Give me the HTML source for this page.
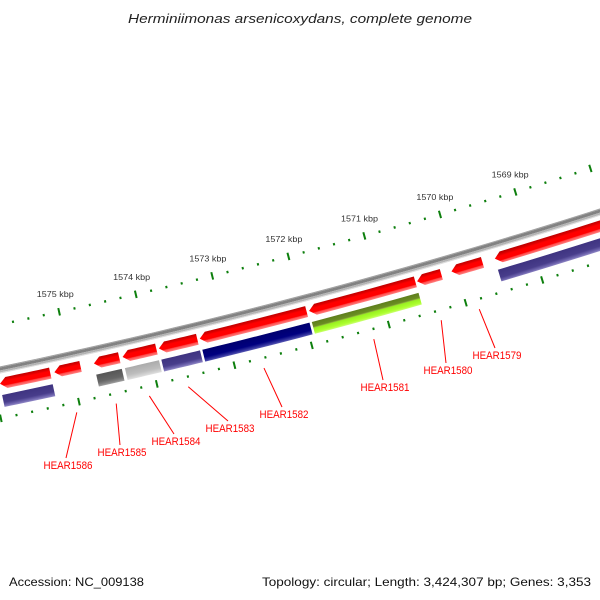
<!DOCTYPE html>
<html><head><meta charset="utf-8">
<style>
html,body{margin:0;padding:0;background:#fff;}
svg{display:block;font-family:"Liberation Sans","DejaVu Sans",sans-serif;}
</style></head>
<body>
<svg id="chart" width="600" height="600" viewBox="0 0 600 600">
<defs id="defs"></defs>
<text x="300" y="23" text-anchor="middle" font-size="13" font-style="italic" fill="#222" textLength="344" lengthAdjust="spacingAndGlyphs">Herminiimonas arsenicoxydans, complete genome</text>
<g id="backbone"></g>
<g id="ticks"></g>
<g id="genes"></g>
<g id="cogs"></g>
<g id="labels"></g>
<text x="9" y="586" font-size="12" fill="#111" textLength="135" lengthAdjust="spacingAndGlyphs">Accession: NC_009138</text>
<text x="262" y="586" font-size="12" fill="#111" textLength="329" lengthAdjust="spacingAndGlyphs">Topology: circular; Length: 3,424,307 bp; Genes: 3,353</text>
</svg>
<script>
// ---- data ----
const geneStart = [1575.93, 1575.23, 1574.72, 1574.35, 1573.88, 1573.35, 1571.93, 1570.52, 1570.07, 1569.50];
const geneEnd   = [1575.27, 1574.88, 1574.38, 1573.90, 1573.37, 1571.95, 1570.53, 1570.19, 1569.65, 1566.80];
const geneNames = ["", "HEAR1586", "HEAR1585", "HEAR1584", "HEAR1583", "HEAR1582", "HEAR1581", "HEAR1580", "HEAR1579", ""];
const geneCog   = ["slate", "", "dgray", "lgray", "slate", "navy", "olive", "", "", "slate"];
const majorKbp  = [1575, 1574, 1573, 1572, 1571, 1570, 1569];
const tickLabels = ["1575 kbp", "1574 kbp", "1573 kbp", "1572 kbp", "1571 kbp", "1570 kbp", "1569 kbp"];
// label layout (text centre x, baseline y) for named genes
const labelPosX = [0, 68, 122, 176, 230, 284, 385, 448, 497, 0];
const labelPosY = [0, 469, 456, 445, 432, 418, 391, 374, 359, 0];

// ---- geometry ----
const NS = "http://www.w3.org/2000/svg";
const CX = -1226, CY = -5508;
const DEG_PER_KBP = 0.756, REF_KBP = 1572, REF_DEG = 75.28;
function ang(k){ return (REF_DEG + (k - REF_KBP) * DEG_PER_KBP) * Math.PI / 180; }
function pt(r, a){ return [CX + r * Math.cos(a), CY + r * Math.sin(a)]; }
function mk(tag, attrs, parent){ const e = document.createElementNS(NS, tag); for (const k in attrs) e.setAttribute(k, attrs[k]); parent.appendChild(e); return e; }
const defs = document.getElementById('defs');
let gid = 0;
function grad(a, r0, r1, stops){
  const p0 = pt(r0, a), p1 = pt(r1, a);
  const id = 'g' + (gid++);
  const g = mk('linearGradient', {id: id, gradientUnits: 'userSpaceOnUse', x1: p0[0], y1: p0[1], x2: p1[0], y2: p1[1]}, defs);
  stops.forEach(s => mk('stop', {offset: s[0], 'stop-color': s[1]}, g));
  return 'url(#' + id + ')';
}
function arcPts(r, a0, a1, n){ const out = []; for (let i = 0; i <= n; i++){ out.push(pt(r, a0 + (a1 - a0) * i / n)); } return out; }
function polyStr(pts){ return pts.map(p => p[0].toFixed(2) + ',' + p[1].toFixed(2)).join(' '); }

// ---- backbone ----
const bb = document.getElementById('backbone');
const bbLayers = [[6001.5, 1, '#a0a0a0'], [6003.5, 3, '#828282'], [6006, 2, '#b4b4b4'], [6007.5, 1, '#dcdcdc']];
bbLayers.forEach(l => {
  const p = mk('polyline', {points: polyStr(arcPts(l[0], ang(1577.5), ang(1565.5), 40)), fill: 'none', stroke: l[2], 'stroke-width': l[1]}, bb);
  
  
});

// ---- ticks ----
const tg = document.getElementById('ticks');
const TICK_GREEN = '#0d7f0d';
[5960, 6052].forEach((r, ring) => {
  for (let i = 7830; i <= 7890; i++){
    const k = i / 5;
    const a = ang(k);
    const major = (i % 5 === 0);
    const len = major ? 3.8 : 1.2;
    const p0 = pt(r - len, a), p1 = pt(r + len, a);
    const t = mk('line', {x1: p0[0], y1: p0[1], x2: p1[0], y2: p1[1], stroke: TICK_GREEN, 'stroke-width': 2}, tg);
    
    
  }
});
majorKbp.forEach((k, i) => {
  const p = pt(5942, ang(k));
  const t = mk('text', {x: p[0], y: p[1] + 3, 'text-anchor': 'middle', 'font-size': 8.5, fill: '#333', textLength: 37, lengthAdjust: 'spacingAndGlyphs'}, tg);
  t.textContent = tickLabels[i];
  
  
});

// ---- genes (red arrows) ----
const gg = document.getElementById('genes');
const R_IN = 6012, R_OUT = 6024, HEAD = 7;
const redStops = [[0, '#b80000'], [0.22, '#e00000'], [0.35, '#ff0000'], [0.68, '#ff0000'], [0.75, '#ff4a4a'], [1, '#ff8c8c']];
geneStart.forEach((k1, i) => {
  const aTip = ang(k1), aEnd = ang(geneEnd[i]);
  const aBase = aTip - HEAD / R_IN;
  const pts = [];
  arcPts(R_IN, aEnd, aBase, 8).forEach(p => pts.push(p));
  pts.push(pt((R_IN + R_OUT) / 2, aTip));
  arcPts(R_OUT, aBase, aEnd, 8).forEach(p => pts.push(p));
  const fill = grad((aTip + aEnd) / 2, R_IN, R_OUT, redStops);
  const g = mk('polygon', {points: polyStr(pts), fill: fill, stroke: '#fff', 'stroke-width': 0.8}, gg);
  
  
});

// ---- COG track ----
const cg = document.getElementById('cogs');
const C_IN = 6029, C_OUT = 6042;
const cogStops = {
  slate: [[0, '#3e3380'], [0.6, '#483d8b'], [0.8, '#6a60aa'], [1, '#9890cc']],
  navy:  [[0, '#00006e'], [0.6, '#000080'], [0.8, '#2a2a99'], [1, '#6060b8']],
  dgray: [[0, '#555'], [0.6, '#666'], [0.8, '#808080'], [1, '#a8a8a8']],
  lgray: [[0, '#aaa'], [0.6, '#bdbdbd'], [0.8, '#cfcfcf'], [1, '#e4e4e4']],
  olive: [[0, '#5d7d1c'], [0.38, '#6b8e23'], [0.45, '#92b040'], [0.5, '#98f020'], [0.8, '#adff2f'], [1, '#d0ff80']]
};
geneStart.forEach((k1, i) => {
  if (!geneCog[i]) return;
  const a0 = ang(k1), a1 = ang(geneEnd[i]);
  const pts = arcPts(C_IN, a0, a1, 8).concat(arcPts(C_OUT, a1, a0, 8));
  const fill = grad((a0 + a1) / 2, C_IN, C_OUT, cogStops[geneCog[i]]);
  const c = mk('polygon', {points: polyStr(pts), fill: fill, stroke: '#fff', 'stroke-width': 0.8}, cg);
  
  
});

// ---- labels ----
const lg = document.getElementById('labels');
geneNames.forEach((nm, i) => {
  if (!nm) return;
  const a = ang((geneStart[i] + geneEnd[i]) / 2);
  const p0 = pt(6062, a);
  const lx = labelPosX[i], ly = labelPosY[i];
  const ln = mk('line', {x1: p0[0], y1: p0[1], x2: lx - 2, y2: ly - 11, stroke: '#ff0000', 'stroke-width': 1}, lg);
  
  
  const t = mk('text', {x: lx, y: ly, 'text-anchor': 'middle', 'font-size': 11, fill: '#ff0000', textLength: 49, lengthAdjust: 'spacingAndGlyphs'}, lg);
  t.textContent = nm;
  
  
});
</script>
</body></html>
